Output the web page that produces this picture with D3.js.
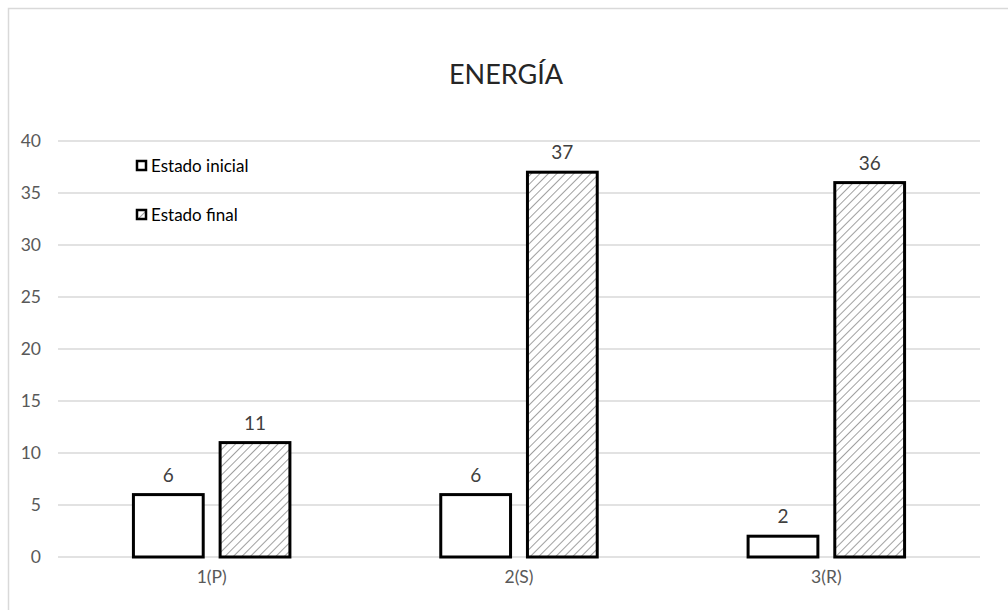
<!DOCTYPE html>
<html><head><meta charset="utf-8">
<script src="https://cdn.jsdelivr.net/npm/d3@7"></script>
<style>body{margin:0;background:#fff;} svg{display:block;font-family:Lato,"Open Sans",sans-serif;}</style>
</head><body>
<svg id="c" width="1008" height="610"></svg>
<script>
const categories = ["1(P)", "2(S)", "3(R)"];
const seriesNames = ["Estado inicial", "Estado final"];
const inicial = [6, 6, 2];
const final = [11, 37, 36];
const yTicks = [0, 5, 10, 15, 20, 25, 30, 35, 40];
const title = "ENERGÍA";

const svg = d3.select("#c");
const defs = svg.append("defs");
const pat = defs.append("pattern").attr("id","hatch").attr("patternUnits","userSpaceOnUse")
  .attr("width",6).attr("height",6).attr("patternTransform","rotate(45)");
pat.append("rect").attr("width",6).attr("height",6).attr("fill","#fff");
pat.append("line").attr("x1",0).attr("y1",0).attr("x2",0).attr("y2",6).attr("stroke","#a0a0a0").attr("stroke-width",2);

// chart frame
svg.append("path").attr("d","M8.5,612 L8.5,8.5 L1012,8.5").attr("fill","none").attr("stroke","#d9d9d9").attr("stroke-width",1.5);

const m = {left:58, right:980, top:141, bottom:557};
const x = d3.scaleBand().domain(categories).range([m.left, m.right]);
const y = d3.scaleLinear().domain([0,40]).range([m.bottom, m.top]);
const FONT = "Lato,'Open Sans',sans-serif";

// gridlines
svg.append("g").selectAll("line").data(yTicks).join("line")
  .attr("x1",m.left).attr("x2",m.right).attr("y1",d=>y(d)).attr("y2",d=>y(d))
  .attr("stroke","#d9d9d9").attr("stroke-width",1.3);

// y axis labels
const yAxis = d3.axisLeft(y).tickValues(yTicks).tickSize(0).tickPadding(17);
const ga = svg.append("g").attr("transform",`translate(${m.left},0)`).call(yAxis);
ga.select(".domain").remove();
ga.selectAll("text").attr("font-size",17.5).attr("fill","#595959").attr("font-family",FONT);

// x axis labels
const xAxis = d3.axisBottom(x).tickSize(0).tickPadding(12);
const gx = svg.append("g").attr("transform",`translate(0,${m.bottom})`).call(xAxis);
gx.select(".domain").remove();
gx.selectAll("text").attr("font-size",17.5).attr("fill","#595959").attr("font-family",FONT).attr("dy","0.8em");

const inner = d3.scaleBand().domain(seriesNames).range([0, x.bandwidth()]).paddingInner(0.195).paddingOuter(0.87);
const data = categories.map((c,i)=>({c, vals:[inicial[i], final[i]]}));
const fills = ["#fff","url(#hatch)"];
const g = svg.append("g");
data.forEach(d=>{
  d.vals.forEach((v,j)=>{
    const xx = x(d.c)+inner(seriesNames[j]);
    g.append("rect").attr("x",xx).attr("y",y(v)).attr("width",inner.bandwidth()).attr("height",y(0)-y(v))
      .attr("fill",fills[j]).attr("stroke","#000").attr("stroke-width",3);
    g.append("text").attr("x",xx+inner.bandwidth()/2).attr("y",y(v)-13).attr("text-anchor","middle")
      .attr("font-size",19).attr("fill","#404040").text(v);
  });
});

// title
svg.append("text").attr("x",506).attr("y",84).attr("text-anchor","middle").attr("font-size",27).attr("fill","#262626").text(title);

// legend
const lg = svg.append("g");
seriesNames.forEach((s,j)=>{
  const ly = 166 + j*49;
  lg.append("rect").attr("x",137).attr("y",ly-5).attr("width",9).attr("height",9)
    .attr("fill", j===0?"#fff":"url(#hatch)").attr("stroke","#000").attr("stroke-width",2.5);
  lg.append("text").attr("x",151).attr("y",ly).attr("dy","0.35em").attr("font-size",17).attr("fill","#000").text(s);
});
</script>
</body></html>
